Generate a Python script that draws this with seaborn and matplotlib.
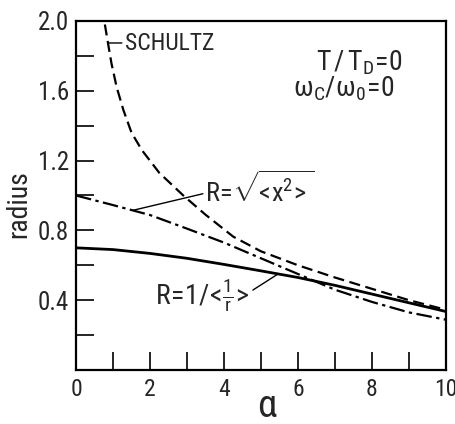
import matplotlib
matplotlib.use('Agg')
import matplotlib.pyplot as plt
import seaborn as sns

# curves
alpha_inv = [0, 1, 2, 3, 4, 5, 6, 7, 8, 9, 10]
radius_inv = [0.70, 0.69, 0.668, 0.64, 0.605, 0.568, 0.53, 0.485, 0.435, 0.385, 0.335]

alpha_rms = [0, 1, 2, 3, 4, 5, 6, 7, 8, 9, 10]
radius_rms = [1.0, 0.945, 0.888, 0.81, 0.73, 0.64, 0.55, 0.46, 0.39, 0.33, 0.288]

alpha_schultz = [0.78, 0.875, 0.96, 1.10, 1.28, 1.50, 1.78, 2.25, 2.9, 3.5, 4.25,
                 5, 6, 7, 8, 9, 10]
radius_schultz = [1.98, 1.86, 1.755, 1.62, 1.49, 1.36, 1.26, 1.13, 1.00, 0.89, 0.764,
                  0.68, 0.60, 0.53, 0.465, 0.40, 0.345]

x_ticks = [0, 2, 4, 6, 8, 10]
x_minor = [1, 3, 5, 7, 9]
y_ticks = [0.4, 0.8, 1.2, 1.6, 2.0]
y_minor = [0.2, 0.6, 1.0, 1.4, 1.8]
y_labels = ['0.4', '0.8', '1.2', '1.6', '2.0']

sns.set_style('ticks')
plt.rcParams['font.family'] = ['Roboto Condensed', 'DejaVu Sans']
plt.rcParams['mathtext.fontset'] = 'custom'
plt.rcParams['mathtext.rm'] = 'Roboto Condensed'
plt.rcParams['mathtext.it'] = 'Roboto Condensed'
plt.rcParams['mathtext.default'] = 'rm'

fig = plt.figure(figsize=(4.56, 4.24), dpi=100)
ax = fig.add_axes([0.1667, 0.1274, 0.8113, 0.8231])

sns.lineplot(x=alpha_inv, y=radius_inv, color='k', lw=2.0, ax=ax, sort=False)
sns.lineplot(x=alpha_rms, y=radius_rms, color='k', lw=1.6, ax=ax, sort=False,
             linestyle=(0, (7, 2, 1.5, 2)))
sns.lineplot(x=alpha_schultz, y=radius_schultz, color='k', lw=1.6, ax=ax, sort=False,
             linestyle=(0, (5, 2.5)))

ax.set_xlim(0, 10)
ax.set_ylim(0, 2)
ax.set_xticks(x_ticks)
ax.set_xticks(x_minor, minor=True)
ax.set_yticks(y_ticks)
ax.set_yticks(y_minor, minor=True)
ax.set_yticklabels(y_labels)
ax.tick_params(which='both', direction='in', length=13, width=1.2, color='k')
ax.tick_params(axis='x', labelsize=17, pad=6)
ax.tick_params(axis='y', labelsize=18, pad=5)
for s in ax.spines.values():
    s.set_linewidth(1.6)
    s.set_color('k')

ax.set_ylabel('radius', fontsize=20, va='center')
ax.yaxis.set_label_coords(-0.155, 0.476)
ax.set_xlabel('α', fontsize=28, va='center')
ax.xaxis.set_label_coords(0.516, -0.105)

# labels and leader lines
line = dict(arrowstyle='-', lw=1.0, color='k', shrinkA=0, shrinkB=0)
ax.annotate('', xy=(0.875, 1.874), xytext=(1.24, 1.874), arrowprops=line)
ax.text(1.32, 1.834, 'SCHULTZ', fontsize=17, va='baseline')

ax.annotate('', xy=(1.54, 0.915), xytext=(3.43, 1.01), arrowprops=line)
ax.text(3.49, 0.963, r'$R\!=\!\sqrt{\!\!<\!x^2\!>}$', fontsize=19, va='baseline')

ax.annotate('', xy=(5.46, 0.55), xytext=(4.78, 0.458), arrowprops=line)
ax.text(2.14, 0.372, r'$R\!=\!1/\!<\!\frac{1}{r}\!>$', fontsize=20, va='baseline')

ax.text(6.49, 1.715, r'$T\,/\,T_D\!=\!0$', fontsize=20, va='baseline')
ax.text(5.86, 1.566, r'$\omega_C/\omega_0\!=\!0$', fontsize=20, va='baseline')

fig.savefig('out.png', dpi=100)
